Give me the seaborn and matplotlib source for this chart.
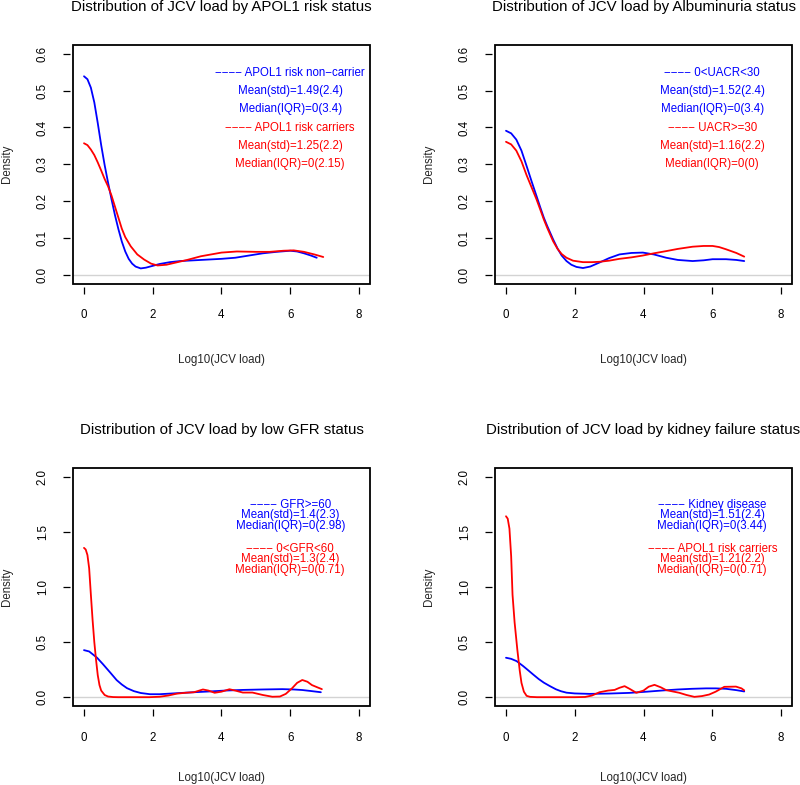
import matplotlib
matplotlib.use("Agg")
import matplotlib.pyplot as plt
from matplotlib.patches import Rectangle
import numpy as np
import pandas as pd
import seaborn as sns

# ---------------- data ----------------
titles = [
    "Distribution of JCV load by APOL1 risk status",
    "Distribution of JCV load by Albuminuria status",
    "Distribution of JCV load by low GFR status",
    "Distribution of JCV load by kidney failure status",
]

# Panel 1: APOL1 risk
p1_blue_x = [0.00, 0.10, 0.20, 0.30, 0.40, 0.50, 0.60, 0.70, 0.80, 0.90, 1.00, 1.10, 1.20, 1.30, 1.40,
             1.50, 1.65, 1.80, 2.00, 2.20, 2.50, 2.80, 3.20, 3.60, 4.00, 4.40, 4.80, 5.20, 5.60, 6.00,
             6.20, 6.40, 6.60, 6.77]
p1_blue_y = [0.539, 0.531, 0.508, 0.468, 0.412, 0.352, 0.298, 0.250, 0.205, 0.162, 0.124, 0.090, 0.063,
             0.043, 0.030, 0.022, 0.017, 0.019, 0.024, 0.029, 0.034, 0.037, 0.039, 0.041, 0.043, 0.046,
             0.052, 0.058, 0.062, 0.065, 0.063, 0.058, 0.052, 0.046]
p1_red_x = [0.00, 0.10, 0.20, 0.30, 0.40, 0.50, 0.60, 0.70, 0.80, 0.90, 1.00, 1.10, 1.20, 1.36, 1.55,
            1.75, 1.95, 2.14, 2.40, 2.72, 3.00, 3.40, 3.70, 4.00, 4.45, 5.00, 5.40, 5.80, 6.10, 6.40,
            6.70, 6.96]
p1_red_y = [0.357, 0.352, 0.340, 0.325, 0.305, 0.283, 0.260, 0.240, 0.215, 0.185, 0.155, 0.125, 0.102,
            0.077, 0.055, 0.041, 0.030, 0.025, 0.027, 0.034, 0.040, 0.050, 0.055, 0.060, 0.063, 0.062,
            0.062, 0.065, 0.066, 0.062, 0.055, 0.048]

# Panel 2: Albuminuria
p2_blue_x = [0.00, 0.15, 0.30, 0.45, 0.60, 0.75, 0.89, 1.00, 1.10, 1.20, 1.37, 1.50, 1.62, 1.76, 1.90,
             2.05, 2.24, 2.45, 2.72, 3.00, 3.30, 3.65, 3.98, 4.30, 4.66, 5.00, 5.43, 5.75, 6.01, 6.40,
             6.70, 6.93]
p2_blue_y = [0.391, 0.384, 0.367, 0.337, 0.295, 0.252, 0.213, 0.182, 0.155, 0.132, 0.096, 0.071, 0.052,
             0.037, 0.027, 0.021, 0.018, 0.022, 0.033, 0.045, 0.055, 0.059, 0.060, 0.055, 0.046, 0.040,
             0.037, 0.039, 0.042, 0.042, 0.040, 0.037]
p2_red_x = [0.00, 0.15, 0.30, 0.45, 0.60, 0.75, 0.89, 1.00, 1.10, 1.20, 1.37, 1.50, 1.62, 1.76, 1.95,
            2.24, 2.50, 2.72, 3.00, 3.30, 3.65, 3.98, 4.30, 4.66, 5.00, 5.43, 5.75, 6.01, 6.20, 6.40,
            6.70, 6.93]
p2_red_y = [0.361, 0.354, 0.337, 0.308, 0.270, 0.236, 0.204, 0.176, 0.150, 0.127, 0.091, 0.070, 0.056,
            0.046, 0.038, 0.034, 0.034, 0.035, 0.038, 0.043, 0.047, 0.052, 0.058, 0.064, 0.070, 0.076,
            0.078, 0.078, 0.075, 0.069, 0.059, 0.049]

# Panel 3: low GFR
p3_blue_x = [0.00, 0.15, 0.38, 0.55, 0.77, 0.95, 1.10, 1.25, 1.45, 1.65, 1.92, 2.20, 2.69, 3.20, 3.65,
             4.10, 4.62, 5.20, 5.77, 6.10, 6.35, 6.60, 6.89]
p3_blue_y = [0.427, 0.415, 0.358, 0.300, 0.221, 0.155, 0.115, 0.082, 0.055, 0.038, 0.027, 0.027, 0.036,
             0.045, 0.052, 0.060, 0.066, 0.070, 0.073, 0.070, 0.065, 0.056, 0.045]
p3_red_x = [0.00, 0.05, 0.10, 0.15, 0.20, 0.25, 0.30, 0.35, 0.40, 0.45, 0.50, 0.60, 0.70, 0.85, 1.00,
            1.50, 1.90, 2.20, 2.45, 2.70, 2.95, 3.20, 3.46, 3.62, 3.80, 4.00, 4.23, 4.40, 4.62, 4.90,
            5.20, 5.48, 5.70, 5.87, 6.05, 6.20, 6.35, 6.50, 6.63, 6.80, 6.92]
p3_red_y = [1.355, 1.340, 1.290, 1.170, 0.930, 0.700, 0.500, 0.340, 0.200, 0.110, 0.060, 0.020, 0.006,
            0.001, 0.000, 0.000, 0.000, 0.004, 0.015, 0.032, 0.040, 0.045, 0.070, 0.060, 0.040, 0.050,
            0.072, 0.060, 0.042, 0.042, 0.020, 0.004, 0.006, 0.030, 0.080, 0.130, 0.156, 0.140, 0.110,
            0.088, 0.073]

# Panel 4: kidney failure
p4_blue_x = [0.00, 0.15, 0.31, 0.50, 0.65, 0.79, 0.95, 1.10, 1.28, 1.45, 1.60, 1.76, 2.00, 2.43, 3.00,
             3.59, 4.10, 4.56, 5.00, 5.40, 5.82, 6.10, 6.40, 6.70, 6.93]
p4_blue_y = [0.358, 0.348, 0.327, 0.282, 0.243, 0.206, 0.165, 0.132, 0.100, 0.072, 0.054, 0.041, 0.034,
             0.030, 0.033, 0.039, 0.050, 0.061, 0.070, 0.076, 0.080, 0.080, 0.076, 0.064, 0.052]
p4_red_x = [0.00, 0.05, 0.10, 0.15, 0.19, 0.25, 0.33, 0.40, 0.45, 0.52, 0.60, 0.70, 0.90, 1.50, 2.00,
            2.30, 2.50, 2.72, 2.97, 3.16, 3.30, 3.45, 3.60, 3.79, 4.00, 4.15, 4.32, 4.50, 4.66, 5.04,
            5.25, 5.48, 5.70, 5.91, 6.10, 6.35, 6.69, 6.85, 6.93]
p4_red_y = [1.642, 1.620, 1.530, 1.280, 0.930, 0.680, 0.430, 0.240, 0.130, 0.050, 0.012, 0.003, 0.000,
            0.000, 0.000, 0.002, 0.015, 0.045, 0.060, 0.066, 0.085, 0.100, 0.075, 0.040, 0.060, 0.095,
            0.112, 0.090, 0.064, 0.040, 0.020, 0.003, 0.010, 0.024, 0.050, 0.094, 0.096, 0.080, 0.062]

# Annotation texts (blue group first, then red group)
p1_blue_text = ["\u2212\u2212\u2212\u2212 APOL1 risk non\u2212carrier", "Mean(std)=1.49(2.4)", "Median(IQR)=0(3.4)"]
p1_red_text = ["\u2212\u2212\u2212\u2212 APOL1 risk carriers", "Mean(std)=1.25(2.2)", "Median(IQR)=0(2.15)"]
p2_blue_text = ["\u2212\u2212\u2212\u2212 0<UACR<30", "Mean(std)=1.52(2.4)", "Median(IQR)=0(3.4)"]
p2_red_text = ["\u2212\u2212\u2212\u2212 UACR>=30", "Mean(std)=1.16(2.2)", "Median(IQR)=0(0)"]
p3_blue_text = ["\u2212\u2212\u2212\u2212 GFR>=60", "Mean(std)=1.4(2.3)", "Median(IQR)=0(2.98)"]
p3_red_text = ["\u2212\u2212\u2212\u2212 0<GFR<60", "Mean(std)=1.3(2.4)", "Median(IQR)=0(0.71)"]
p4_blue_text = ["\u2212\u2212\u2212\u2212 Kidney disease", "Mean(std)=1.51(2.4)", "Median(IQR)=0(3.44)"]
p4_red_text = ["\u2212\u2212\u2212\u2212 APOL1 risk carriers", "Mean(std)=1.21(2.2)", "Median(IQR)=0(0.71)"]

x_ticks = [0, 2, 4, 6, 8]
y_ticks_top = [0.0, 0.1, 0.2, 0.3, 0.4, 0.5, 0.6]
y_ticks_bottom = [0.0, 0.5, 1.0, 1.5, 2.0]
x_label = "Log10(JCV load)"
y_label = "Density"

# ---------------- styling ----------------
sns.set_theme(style="white")
plt.rcParams["font.family"] = ["Liberation Sans", "DejaVu Sans"]
plt.rcParams["axes.unicode_minus"] = True

BLUE = "#0000FF"
RED = "#FF0000"
BASE_FS = 8.3
TITLE_FS = 10.8

W, H = 800, 785
fig = plt.figure(figsize=(W / 100, H / 100), dpi=100)
fig.patch.set_facecolor("white")


def rect(left, top, right, bottom):
    return [left / W, (H - bottom) / H, (right - left) / W, (bottom - top) / H]


panels = [
    dict(pos=rect(73, 45, 370, 283.5), bx=p1_blue_x, by=p1_blue_y, rx=p1_red_x, ry=p1_red_y,
         bt=p1_blue_text, rt=p1_red_text, yt=y_ticks_top, ylim=(-0.024, 0.624),
         ty=[0.548, 0.499, 0.450, 0.398, 0.349, 0.300], xl=-76),
    dict(pos=rect(495, 45, 792, 283.5), bx=p2_blue_x, by=p2_blue_y, rx=p2_red_x, ry=p2_red_y,
         bt=p2_blue_text, rt=p2_red_text, yt=y_ticks_top, ylim=(-0.024, 0.624),
         ty=[0.548, 0.499, 0.450, 0.398, 0.349, 0.300], xl=-76),
    dict(pos=rect(73, 468, 370, 706), bx=p3_blue_x, by=p3_blue_y, rx=p3_red_x, ry=p3_red_y,
         bt=p3_blue_text, rt=p3_red_text, yt=y_ticks_bottom, ylim=(-0.08, 2.08),
         ty=[1.745, 1.650, 1.553, 1.345, 1.250, 1.153], xl=-72),
    dict(pos=rect(495, 468, 792, 706), bx=p4_blue_x, by=p4_blue_y, rx=p4_red_x, ry=p4_red_y,
         bt=p4_blue_text, rt=p4_red_text, yt=y_ticks_bottom, ylim=(-0.08, 2.08),
         ty=[1.745, 1.650, 1.553, 1.345, 1.250, 1.153], xl=-72),
]

for i, p in enumerate(panels):
    ax = fig.add_axes(p["pos"])
    ax.set_facecolor("white")
    df = pd.concat([
        pd.DataFrame({"x": p["bx"], "y": p["by"], "g": "blue"}),
        pd.DataFrame({"x": p["rx"], "y": p["ry"], "g": "red"}),
    ], ignore_index=True)
    ax.axhline(0, color="#D3D3D3", lw=1.0, zorder=1)
    sns.lineplot(data=df, x="x", y="y", hue="g", palette={"blue": BLUE, "red": RED},
                 sort=False, estimator=None, legend=False, ax=ax, linewidth=1.3, zorder=3)
    ax.set_xlim(-0.32, 8.32)
    ax.set_ylim(*p["ylim"])
    ax.set_xticks(x_ticks)
    ax.set_xticklabels([str(t) for t in x_ticks])
    ax.set_yticks(p["yt"])
    ax.set_yticklabels([f"{t:.1f}" for t in p["yt"]])

    # frame box
    for s in ["top", "right"]:
        ax.spines[s].set_visible(False)
    for s in ["left", "bottom"]:
        ax.spines[s].set_position(("outward", 2.4))
        ax.spines[s].set_color("none")
    ax.add_patch(Rectangle((0, 0), 1, 1, transform=ax.transAxes, fill=False,
                           edgecolor="black", linewidth=1.3, clip_on=False, zorder=5))
    ax.tick_params(axis="both", which="major", direction="out", length=5, width=0.9,
                   color="black", labelsize=BASE_FS, labelcolor="black",
                   bottom=True, left=True)
    ax.tick_params(axis="x", pad=11)
    ax.tick_params(axis="y", pad=10, labelrotation=90)
    for lbl in ax.get_yticklabels():
        lbl.set_verticalalignment("center")

    ax.set_xlabel(x_label, fontsize=BASE_FS, va="center")
    ax.xaxis.set_label_coords(0.5, p["xl"] / 238.5)
    ax.set_ylabel(y_label, fontsize=BASE_FS, va="center", rotation=90)
    ax.yaxis.set_label_coords(-66 / 297, 0.5)

    ax.text(0.5, 1 + 38 / 238.5, titles[i], transform=ax.transAxes, ha="center", va="center",
            fontsize=TITLE_FS, color="black")

    lines = list(p["bt"]) + list(p["rt"])
    cols = [BLUE] * len(p["bt"]) + [RED] * len(p["rt"])
    for txt, yv, c in zip(lines, p["ty"], cols):
        ax.text(6.0, yv, txt, ha="center", va="center", color=c, fontsize=BASE_FS, zorder=6)

fig.savefig("out.png", dpi=100, facecolor="white")
